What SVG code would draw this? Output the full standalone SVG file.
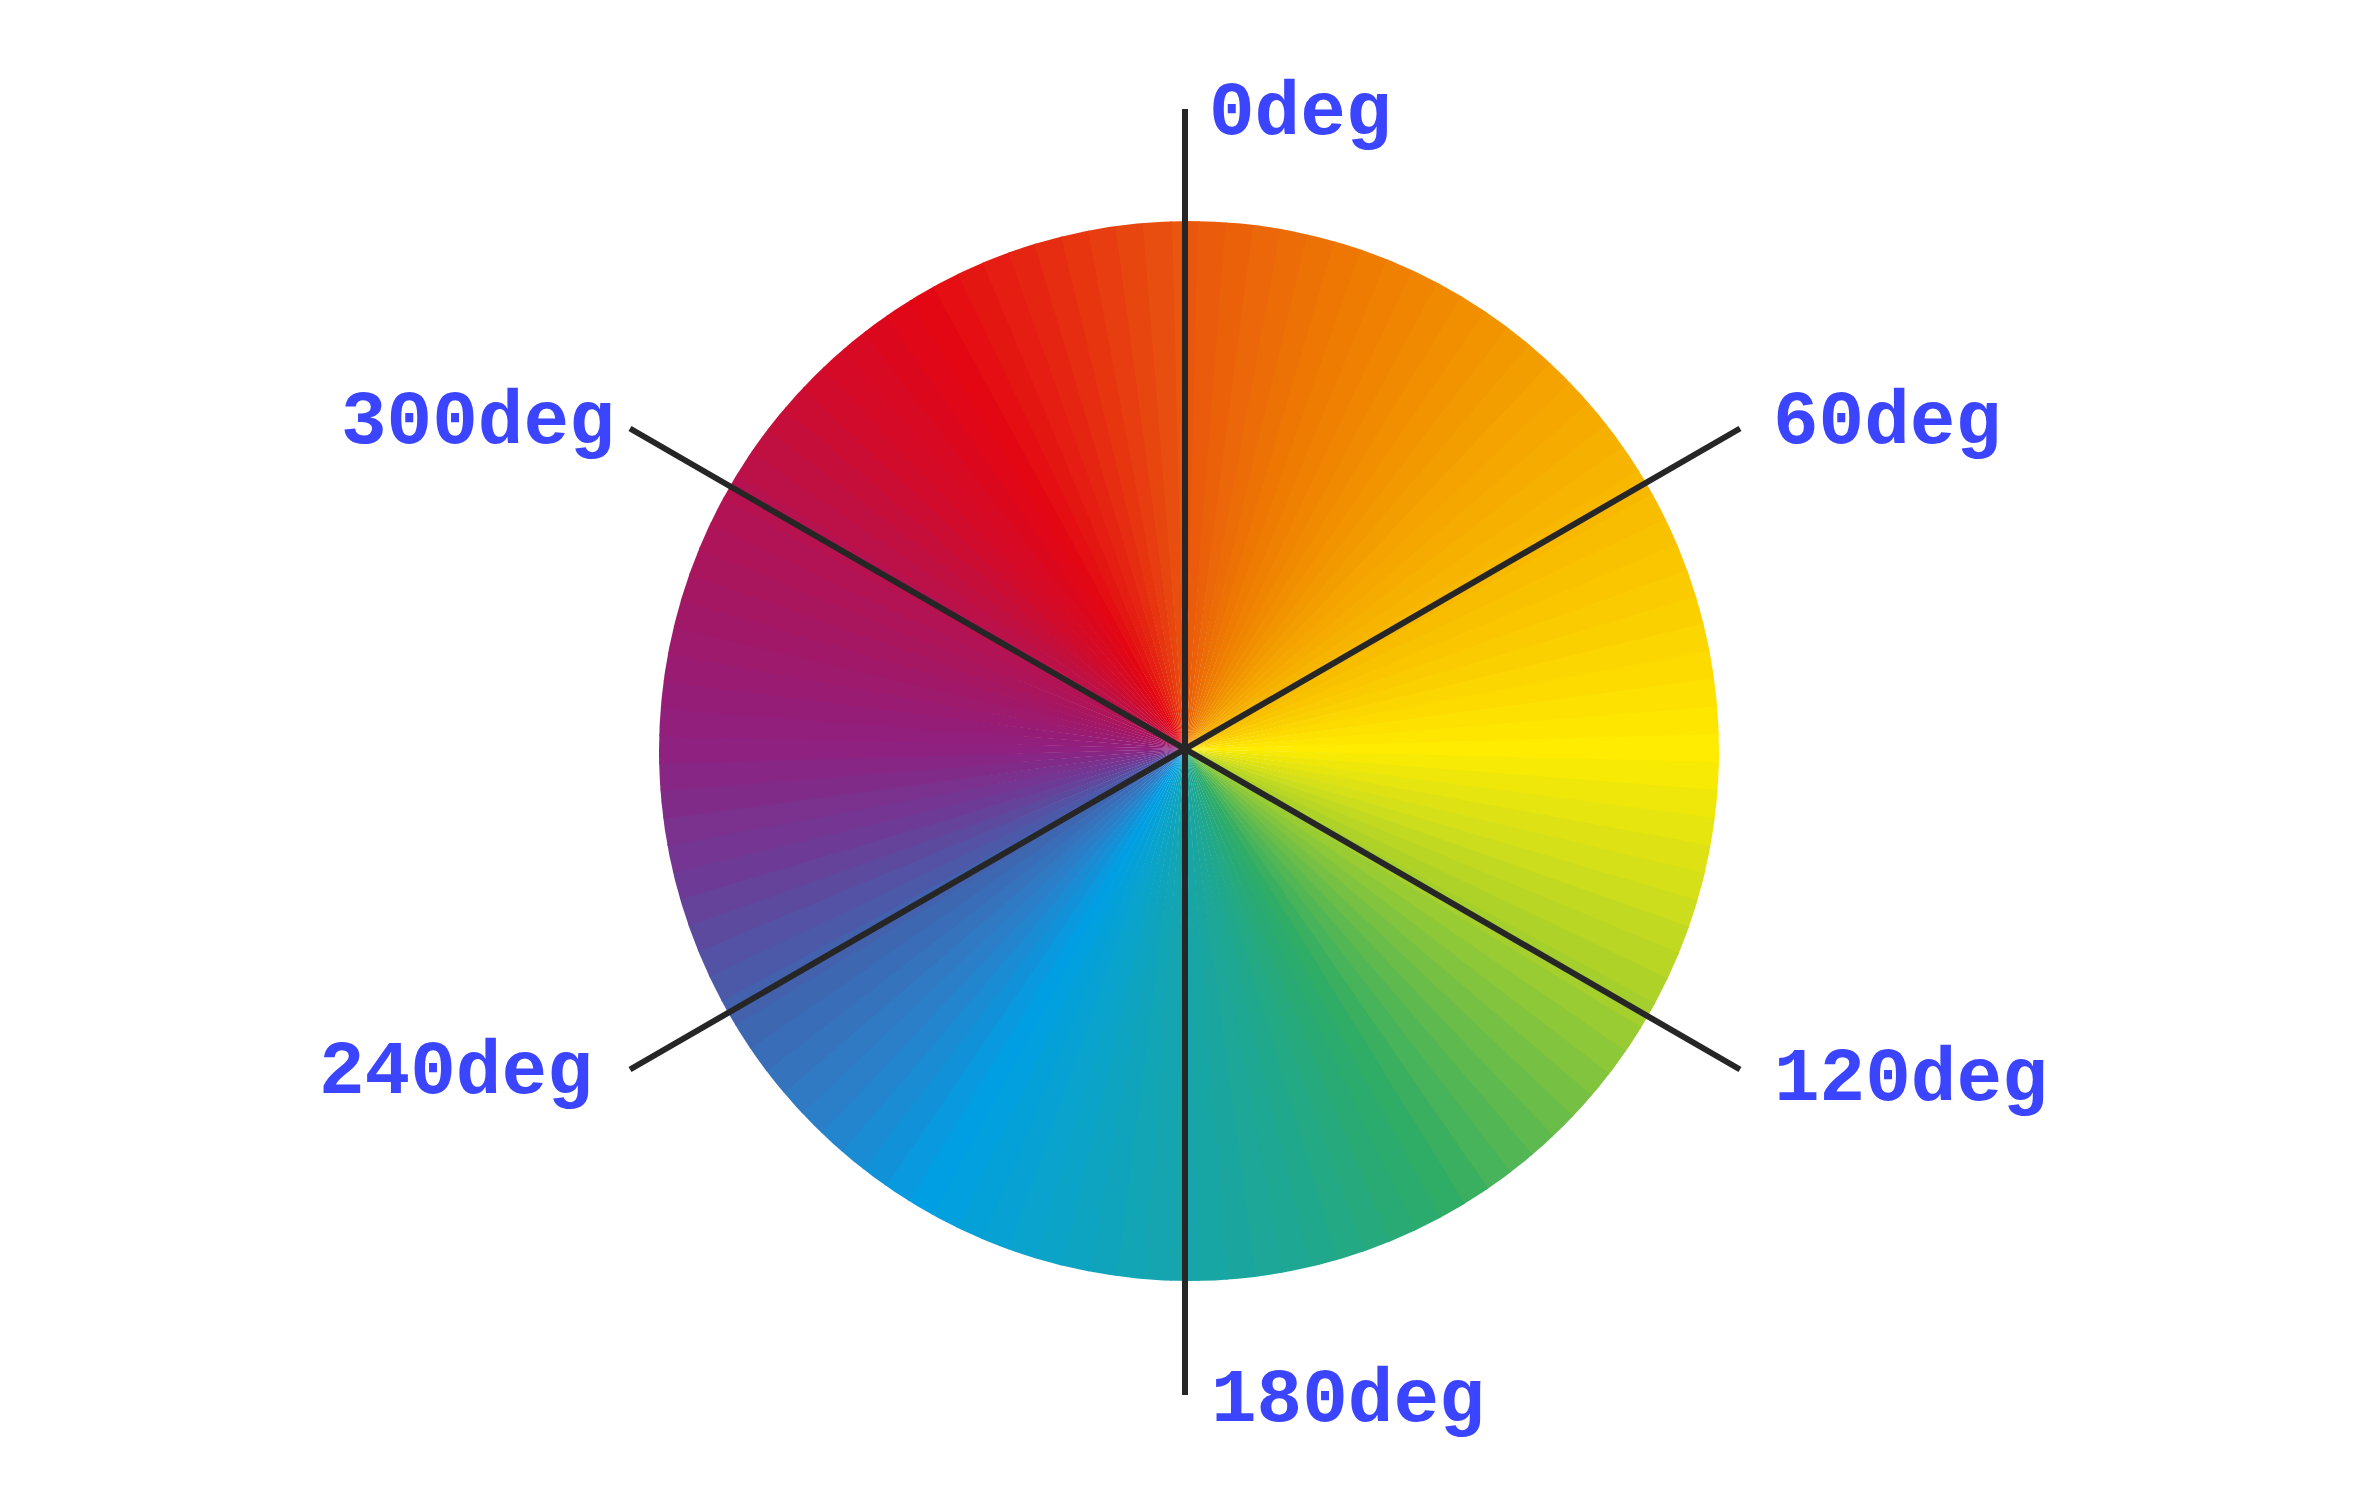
<svg xmlns="http://www.w3.org/2000/svg" xmlns:xlink="http://www.w3.org/1999/xlink" width="2375" height="1506" viewBox="0 0 2375 1506">
<style>
.axis{stroke:#262626;stroke-width:6;stroke-linecap:butt;fill:none}
.lbl{font-family:"Liberation Mono","DejaVu Sans Mono",monospace;font-weight:bold;font-size:76px;fill:#3b45ff}
</style>
<defs>
<clipPath id="circ"><circle cx="1189" cy="751" r="530"/></clipPath>
<path id="w" d="M0 0 L-15.7 -562 L15.7 -562 Z"/>
</defs>
<rect width="2375" height="1506" fill="#ffffff"/>
<g id="wheel" clip-path="url(#circ)">
<g transform="translate(1185,749)">
<use href="#w" transform="rotate(0)" fill="#e9560e"/>
<use href="#w" transform="rotate(3)" fill="#ea5c0c"/>
<use href="#w" transform="rotate(6)" fill="#eb610a"/>
<use href="#w" transform="rotate(9)" fill="#eb6709"/>
<use href="#w" transform="rotate(12)" fill="#ec6c07"/>
<use href="#w" transform="rotate(15)" fill="#ed7205"/>
<use href="#w" transform="rotate(18)" fill="#ee7704"/>
<use href="#w" transform="rotate(21)" fill="#ee7c03"/>
<use href="#w" transform="rotate(24)" fill="#ef8002"/>
<use href="#w" transform="rotate(27)" fill="#ef8501"/>
<use href="#w" transform="rotate(30)" fill="#f08a00"/>
<use href="#w" transform="rotate(33)" fill="#f18f00"/>
<use href="#w" transform="rotate(36)" fill="#f29400"/>
<use href="#w" transform="rotate(39)" fill="#f29900"/>
<use href="#w" transform="rotate(42)" fill="#f39e00"/>
<use href="#w" transform="rotate(45)" fill="#f4a300"/>
<use href="#w" transform="rotate(48)" fill="#f5a700"/>
<use href="#w" transform="rotate(51)" fill="#f6ab00"/>
<use href="#w" transform="rotate(54)" fill="#f6b000"/>
<use href="#w" transform="rotate(57)" fill="#f7b400"/>
<use href="#w" transform="rotate(60)" fill="#f8b800"/>
<use href="#w" transform="rotate(63)" fill="#f9bd00"/>
<use href="#w" transform="rotate(66)" fill="#f9c200"/>
<use href="#w" transform="rotate(69)" fill="#fac600"/>
<use href="#w" transform="rotate(72)" fill="#facb00"/>
<use href="#w" transform="rotate(75)" fill="#fbd000"/>
<use href="#w" transform="rotate(78)" fill="#fcd600"/>
<use href="#w" transform="rotate(81)" fill="#fddb00"/>
<use href="#w" transform="rotate(84)" fill="#fde100"/>
<use href="#w" transform="rotate(87)" fill="#fee600"/>
<use href="#w" transform="rotate(90)" fill="#ffec00"/>
<use href="#w" transform="rotate(93)" fill="#f7ea05"/>
<use href="#w" transform="rotate(96)" fill="#efe70a"/>
<use href="#w" transform="rotate(99)" fill="#e6e50f"/>
<use href="#w" transform="rotate(102)" fill="#dee214"/>
<use href="#w" transform="rotate(105)" fill="#d6e019"/>
<use href="#w" transform="rotate(108)" fill="#ccdd1d"/>
<use href="#w" transform="rotate(111)" fill="#c2d921"/>
<use href="#w" transform="rotate(114)" fill="#b9d625"/>
<use href="#w" transform="rotate(117)" fill="#afd229"/>
<use href="#w" transform="rotate(120)" fill="#a5cf2d"/>
<use href="#w" transform="rotate(123)" fill="#99cb33"/>
<use href="#w" transform="rotate(126)" fill="#8dc838"/>
<use href="#w" transform="rotate(129)" fill="#82c43e"/>
<use href="#w" transform="rotate(132)" fill="#76c143"/>
<use href="#w" transform="rotate(135)" fill="#6abd49"/>
<use href="#w" transform="rotate(138)" fill="#5eba4f"/>
<use href="#w" transform="rotate(141)" fill="#52b655"/>
<use href="#w" transform="rotate(144)" fill="#47b35a"/>
<use href="#w" transform="rotate(147)" fill="#3baf60"/>
<use href="#w" transform="rotate(150)" fill="#2fac66"/>
<use href="#w" transform="rotate(153)" fill="#2cab6e"/>
<use href="#w" transform="rotate(156)" fill="#29aa75"/>
<use href="#w" transform="rotate(159)" fill="#26aa7d"/>
<use href="#w" transform="rotate(162)" fill="#23a984"/>
<use href="#w" transform="rotate(165)" fill="#20a88c"/>
<use href="#w" transform="rotate(168)" fill="#1ea792"/>
<use href="#w" transform="rotate(171)" fill="#1ca798"/>
<use href="#w" transform="rotate(174)" fill="#1aa69e"/>
<use href="#w" transform="rotate(177)" fill="#18a6a4"/>
<use href="#w" transform="rotate(180)" fill="#16a5aa"/>
<use href="#w" transform="rotate(183)" fill="#14a5b0"/>
<use href="#w" transform="rotate(186)" fill="#12a5b6"/>
<use href="#w" transform="rotate(189)" fill="#0fa4bc"/>
<use href="#w" transform="rotate(192)" fill="#0da4c2"/>
<use href="#w" transform="rotate(195)" fill="#0ba4c8"/>
<use href="#w" transform="rotate(198)" fill="#09a3cd"/>
<use href="#w" transform="rotate(201)" fill="#07a2d3"/>
<use href="#w" transform="rotate(204)" fill="#04a1d8"/>
<use href="#w" transform="rotate(207)" fill="#02a0de"/>
<use href="#w" transform="rotate(210)" fill="#009fe3"/>
<use href="#w" transform="rotate(213)" fill="#0999de"/>
<use href="#w" transform="rotate(216)" fill="#1192d8"/>
<use href="#w" transform="rotate(219)" fill="#1a8cd3"/>
<use href="#w" transform="rotate(222)" fill="#2285cd"/>
<use href="#w" transform="rotate(225)" fill="#2b7fc8"/>
<use href="#w" transform="rotate(228)" fill="#3079c3"/>
<use href="#w" transform="rotate(231)" fill="#3573bd"/>
<use href="#w" transform="rotate(234)" fill="#396db8"/>
<use href="#w" transform="rotate(237)" fill="#3e67b2"/>
<use href="#w" transform="rotate(240)" fill="#4361ad"/>
<use href="#w" transform="rotate(243)" fill="#4b59a8"/>
<use href="#w" transform="rotate(246)" fill="#5452a4"/>
<use href="#w" transform="rotate(249)" fill="#5c4a9f"/>
<use href="#w" transform="rotate(252)" fill="#65439b"/>
<use href="#w" transform="rotate(255)" fill="#6d3b96"/>
<use href="#w" transform="rotate(258)" fill="#743692"/>
<use href="#w" transform="rotate(261)" fill="#7b318e"/>
<use href="#w" transform="rotate(264)" fill="#812b89"/>
<use href="#w" transform="rotate(267)" fill="#882685"/>
<use href="#w" transform="rotate(270)" fill="#8f2181"/>
<use href="#w" transform="rotate(273)" fill="#931f7c"/>
<use href="#w" transform="rotate(276)" fill="#961d77"/>
<use href="#w" transform="rotate(279)" fill="#9a1c72"/>
<use href="#w" transform="rotate(282)" fill="#9d1a6d"/>
<use href="#w" transform="rotate(285)" fill="#a11868"/>
<use href="#w" transform="rotate(288)" fill="#a51763"/>
<use href="#w" transform="rotate(291)" fill="#a9165e"/>
<use href="#w" transform="rotate(294)" fill="#ae1459"/>
<use href="#w" transform="rotate(297)" fill="#b21354"/>
<use href="#w" transform="rotate(300)" fill="#b6124f"/>
<use href="#w" transform="rotate(303)" fill="#bb1148"/>
<use href="#w" transform="rotate(306)" fill="#c00f41"/>
<use href="#w" transform="rotate(309)" fill="#c60e3a"/>
<use href="#w" transform="rotate(312)" fill="#cb0c33"/>
<use href="#w" transform="rotate(315)" fill="#d00b2c"/>
<use href="#w" transform="rotate(318)" fill="#d40a27"/>
<use href="#w" transform="rotate(321)" fill="#d80922"/>
<use href="#w" transform="rotate(324)" fill="#db081d"/>
<use href="#w" transform="rotate(327)" fill="#df0718"/>
<use href="#w" transform="rotate(330)" fill="#e30613"/>
<use href="#w" transform="rotate(333)" fill="#e40e13"/>
<use href="#w" transform="rotate(336)" fill="#e41612"/>
<use href="#w" transform="rotate(339)" fill="#e51d12"/>
<use href="#w" transform="rotate(342)" fill="#e52511"/>
<use href="#w" transform="rotate(345)" fill="#e62d11"/>
<use href="#w" transform="rotate(348)" fill="#e73510"/>
<use href="#w" transform="rotate(351)" fill="#e73d10"/>
<use href="#w" transform="rotate(354)" fill="#e8460f"/>
<use href="#w" transform="rotate(357)" fill="#e84e0f"/>
</g>
</g>
<g id="axes">
<line class="axis" x1="1185" y1="109" x2="1185" y2="1395"/>
<line class="axis" x1="630" y1="428.5" x2="1740" y2="1069.5"/>
<line class="axis" x1="630" y1="1069.5" x2="1740" y2="428.5"/>
</g>
<g id="label-0"><text class="lbl" x="1209" y="134">0deg</text></g>
<g id="label-60"><text class="lbl" x="1773" y="443">60deg</text></g>
<g id="label-120"><text class="lbl" x="1774" y="1100">120deg</text></g>
<g id="label-180"><text class="lbl" x="1211" y="1421">180deg</text></g>
<g id="label-240"><text class="lbl" x="319" y="1093">240deg</text></g>
<g id="label-300"><text class="lbl" x="341" y="443">300deg</text></g>
</svg>
